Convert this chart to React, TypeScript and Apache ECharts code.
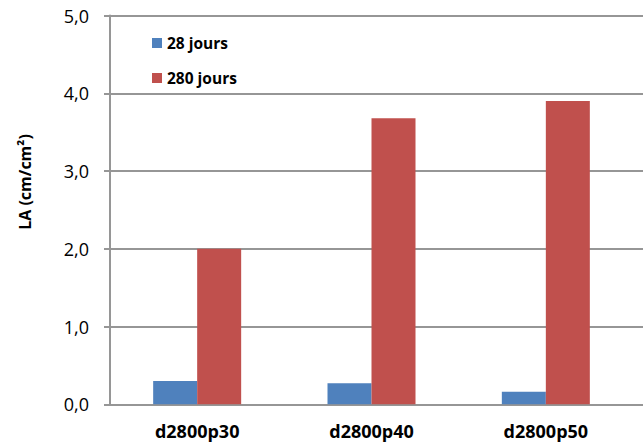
import React, { useEffect, useRef } from "react";
import * as echarts from "echarts";

const categories = ["d2800p30", "d2800p40", "d2800p50"];
const jours28 = [0.3, 0.27, 0.16];
const jours280 = [2.0, 3.68, 3.9];
const seriesNames = ["28 jours", "280 jours"];
const yMin = 0;
const yMax = 5;
const yStep = 1;
const yTitle = "LA (cm/cm²)";

const FONT = "'Open Sans', 'Liberation Sans', sans-serif";
const GRID_COLOR = "#969696";
const W = 643;
const H = 443;

export default function App() {
  const ref = useRef<HTMLDivElement>(null);
  useEffect(() => {
    if (!ref.current) return;
    const chart = echarts.init(ref.current, undefined, { renderer: "svg" });
    chart.setOption({
      animation: false,
      backgroundColor: "#ffffff",
      grid: [
        { left: 110, right: 10, top: 15.5, bottom: 38.7 },
        { left: 110, right: 0, top: 15.5, bottom: 38.7 },
      ],
      legend: {
        orient: "vertical",
        left: 152,
        top: 35,
        padding: 0,
        itemGap: 19,
        itemWidth: 10,
        itemHeight: 10,
        icon: "rect",
        textStyle: { fontFamily: FONT, fontSize: 15.5, fontWeight: "bold", color: "#000" },
        data: seriesNames,
      },
      xAxis: [
        {
          type: "category",
          gridIndex: 0,
          data: categories,
          axisLine: { show: false },
          axisTick: { show: false },
          splitLine: { show: false },
          axisLabel: {
            margin: 18,
            fontFamily: FONT,
            fontSize: 18,
            fontWeight: "bold",
            color: "#000",
          },
        },
        {
          type: "value",
          gridIndex: 1,
          min: 0,
          max: 1,
          axisLine: { show: true, lineStyle: { color: GRID_COLOR, width: 2 } },
          axisTick: { show: false },
          axisLabel: { show: false },
          splitLine: { show: false },
        },
      ],
      yAxis: [
        {
          type: "value",
          gridIndex: 0,
          min: yMin,
          max: yMax,
          interval: yStep,
          axisLine: { show: true, lineStyle: { color: GRID_COLOR, width: 2 } },
          axisTick: { show: true, length: 6, lineStyle: { color: GRID_COLOR, width: 2 } },
          splitLine: { show: false },
          axisLabel: {
            margin: 21,
            fontFamily: FONT,
            fontSize: 18,
            color: "#000",
            formatter: (v: number) => v.toFixed(1).replace(".", ","),
          },
        },
        {
          type: "value",
          gridIndex: 1,
          min: yMin,
          max: yMax,
          interval: yStep,
          axisLine: { show: false },
          axisTick: { show: false },
          axisLabel: { show: false },
          splitLine: { show: true, lineStyle: { color: GRID_COLOR, width: 2 } },
        },
      ],
      series: [
        {
          name: seriesNames[0],
          type: "bar",
          xAxisIndex: 0,
          yAxisIndex: 0,
          data: jours28,
          barWidth: 44,
          barGap: "0%",
          z: 3,
          itemStyle: { color: "#4F81BD" },
        },
        {
          name: seriesNames[1],
          type: "bar",
          xAxisIndex: 0,
          yAxisIndex: 0,
          data: jours280,
          barWidth: 44,
          barGap: "0%",
          z: 3,
          itemStyle: { color: "#C0504D" },
        },
      ],
      graphic: [
        {
          type: "text",
          x: 25,
          y: 182,
          rotation: Math.PI / 2,
          style: {
            text: yTitle,
            fontFamily: FONT,
            fontSize: 16,
            fontWeight: "bold",
            fill: "#000",
            align: "center",
            verticalAlign: "middle",
          },
        },
      ],
    });
    return () => chart.dispose();
  }, []);
  return (
    <div
      ref={ref}
      style={{ position: "fixed", left: 0, top: 0, width: W, height: H }}
    />
  );
}
